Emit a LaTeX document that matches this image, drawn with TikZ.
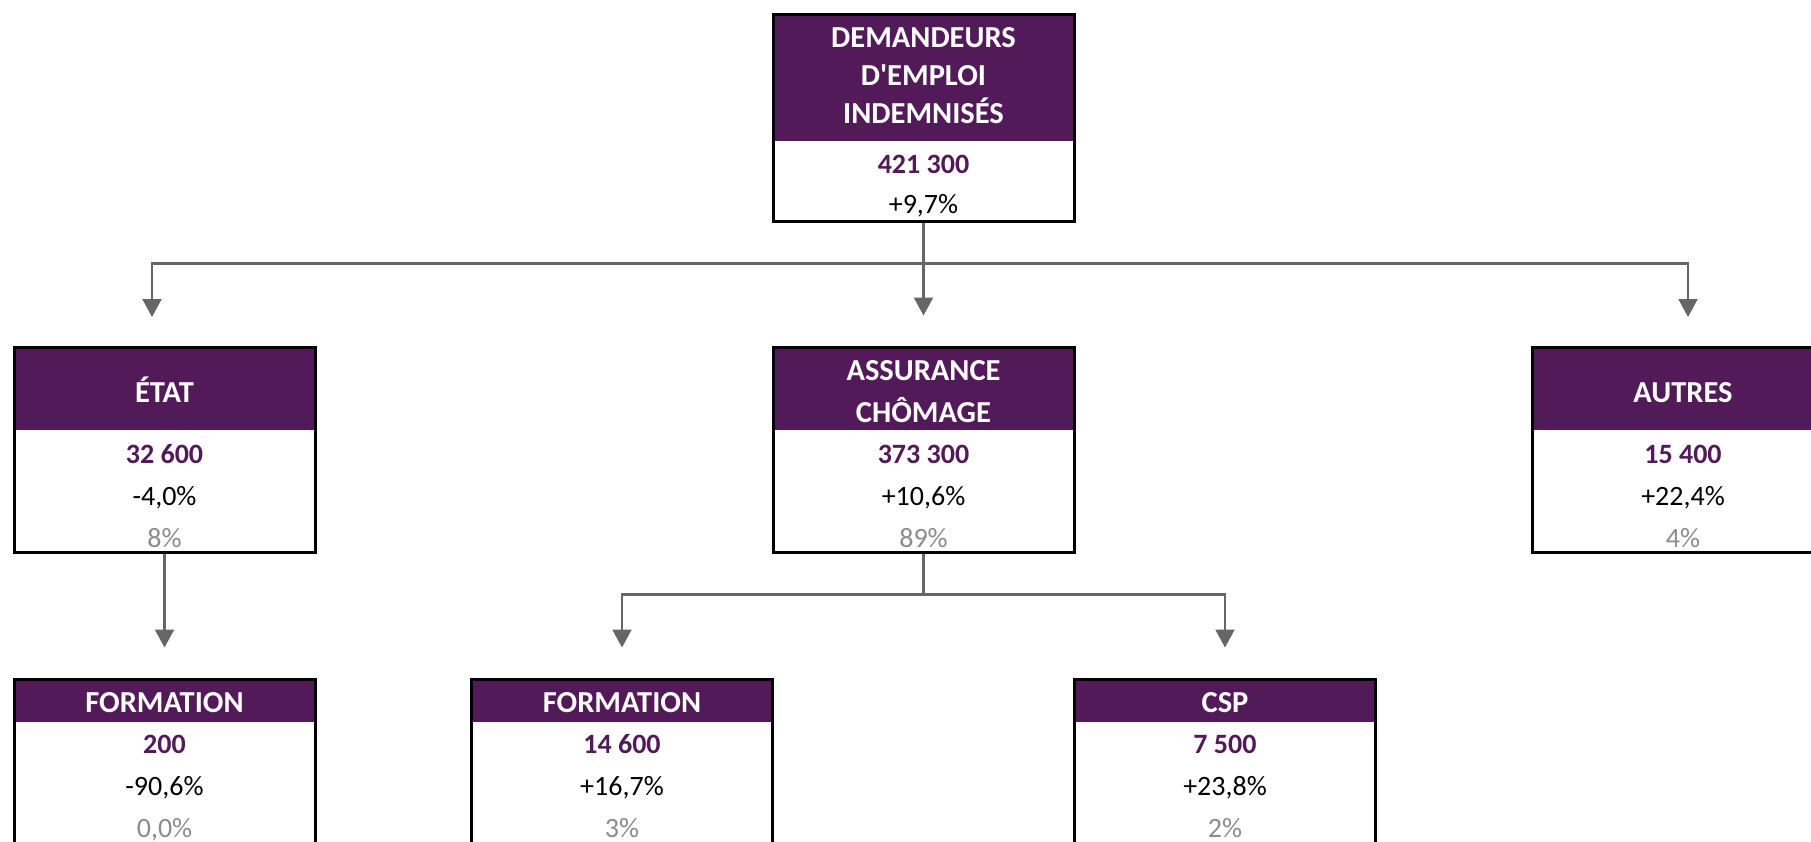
\documentclass[tikz,border=0pt]{standalone}
\usepackage{fontspec}
\setmainfont{Carlito}
\usetikzlibrary{arrows.meta}
\definecolor{plum}{RGB}{83,26,89}
\definecolor{linkgray}{RGB}{102,102,102}
\definecolor{sharegray}{RGB}{140,140,140}
\tikzset{
  box/.style 2 args={draw=black, line width=3pt, minimum width=301pt, minimum height=#1, inner sep=0pt,
    path picture={\fill[plum] (path picture bounding box.north west) rectangle ([yshift=-#2]path picture bounding box.north east);}},
  hd/.style={text=white, font=\fontsize{30.5}{36}\selectfont\bfseries, anchor=base, inner sep=0pt},
  val/.style={text=plum, font=\fontsize{28}{34}\selectfont\bfseries, anchor=base, inner sep=0pt},
  var/.style={text=black, font=\fontsize{28}{34}\selectfont, anchor=base, inner sep=0pt},
  shr/.style={text=sharegray, font=\fontsize{28}{34}\selectfont, anchor=base, inner sep=0pt},
  link/.style={draw=linkgray, line width=2.2pt}
}
\begin{document}
\begin{tikzpicture}[x=1pt,y=-1pt,>={Triangle[width=19pt,length=18pt]}]
  \clip (0,0) rectangle (1811,841);
  \fill[white] (0,0) rectangle (1811,841);
  % boxes
  \node[box={207pt}{127pt}] (dei) at (923.5,117.5) {};
  \node[box={205pt}{83pt}] (etat) at (164.5,449.5) {};
  \node[box={205pt}{83pt}] (ac) at (923.5,449.5) {};
  \node[box={205pt}{83pt}] (autres) at (1683,449.5) {};
  \node[box={221pt}{43pt}] (fa) at (164.5,789.5) {};
  \node[box={221pt}{43pt}] (fb) at (622,789.5) {};
  \node[box={221pt}{43pt}] (csp) at (1225,789.5) {};
  % headers
  \node[hd] (dei-h1) at (923.5,47) {DEMANDEURS};
  \node[hd] (dei-h2) at (923.5,85) {D\textquotesingle EMPLOI};
  \node[hd] (dei-h3) at (923.5,123) {INDEMNISÉS};
  \node[hd] (etat-h) at (164.5,402) {ÉTAT};
  \node[hd] (ac-h1) at (923.5,380) {ASSURANCE};
  \node[hd] (ac-h2) at (923.5,422) {CHÔMAGE};
  \node[hd] (autres-h) at (1683,402) {AUTRES};
  \node[hd] (fa-h) at (164.5,712) {FORMATION};
  \node[hd] (fb-h) at (622,712) {FORMATION};
  \node[hd] (csp-h) at (1225,712) {CSP};
  % figures
  \node[val] (dei-v) at (923.5,173) {421 300};
  \node[var] (dei-p) at (923.5,213) {+9,7\%};
  \foreach \nm/\x/\y/\val/\var/\shr in {
    etat/164.5/463/{32 600}/{-4,0\%}/{8\%},
    ac/923.5/463/{373 300}/{+10,6\%}/{89\%},
    autres/1683/463/{15 400}/{+22,4\%}/{4\%},
    fa/164.5/753/{200}/{-90,6\%}/{0,0\%},
    fb/622/753/{14 600}/{+16,7\%}/{3\%},
    csp/1225/753/{7 500}/{+23,8\%}/{2\%}} {
    \node[val] (\nm-v) at (\x,\y) {\val};
    \node[var] (\nm-p) at (\x,\y+42) {\var};
    \node[shr] (\nm-s) at (\x,\y+84) {\shr};
  }
  % connectors
  \coordinate (tipE) at (152,317);
  \coordinate (tipA) at (1688,317);
  \draw[link] (dei.south) -- ++(0,41) coordinate (bus);
  \draw[link,->] (bus) -| (tipE);
  \draw[link,->] (bus) -| (tipA);
  \draw[link,->] (dei.south) -- ([yshift=30pt]ac.north);
  \draw[link,->] (etat.south) -- ([yshift=30pt]fa.north);
  \draw[link] (ac.south) -- ++(0,41) coordinate (bus2);
  \draw[link,->] (bus2) -| ([yshift=30pt]fb.north);
  \draw[link,->] (bus2) -| ([yshift=30pt]csp.north);
\end{tikzpicture}
\end{document}
